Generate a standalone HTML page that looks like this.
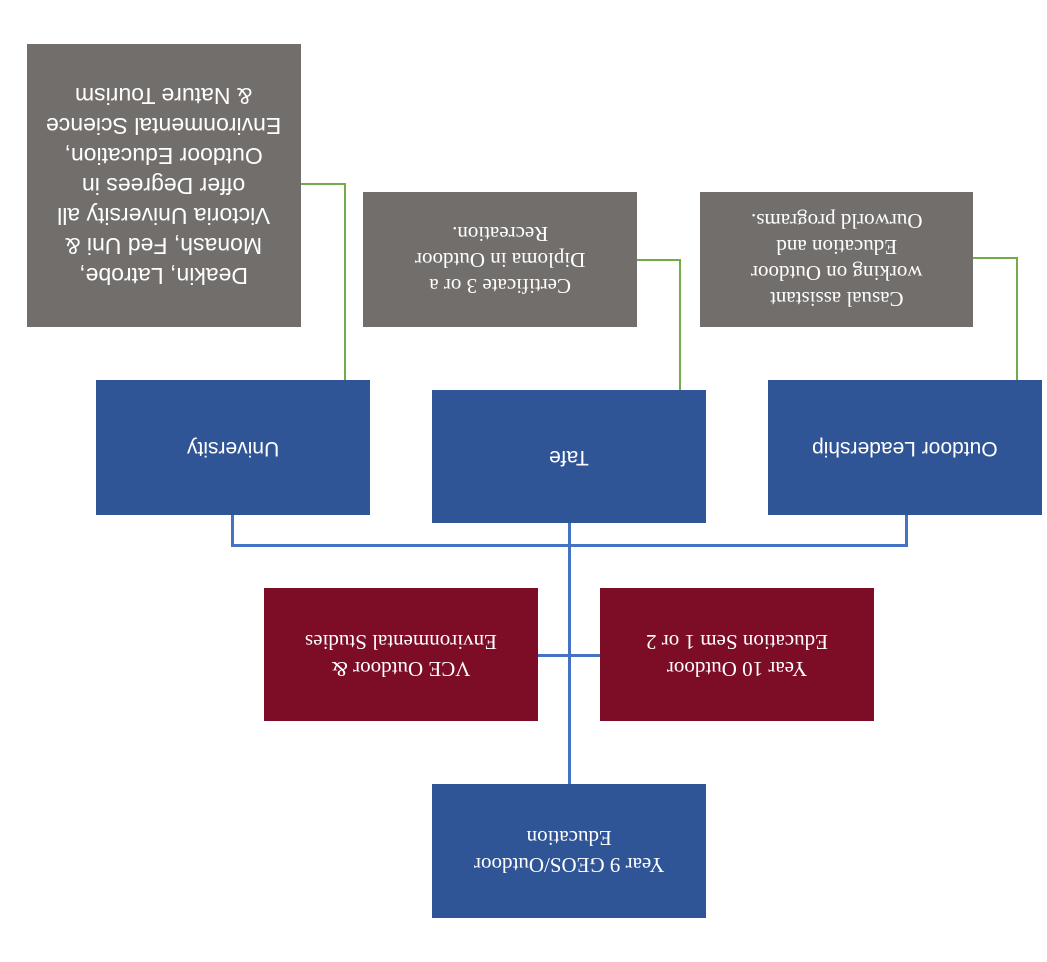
<!DOCTYPE html><html><head><style>
body{margin:0;width:1047px;height:962px;background:#fff;position:relative;overflow:hidden}
.b{position:absolute;display:flex;align-items:center;justify-content:center;text-align:center;color:#fff;box-sizing:border-box}
.b span{display:block;transform:rotate(180deg)}
.g{background:#716e6c}.bl{background:#2f5597}.r{background:#7d0c27}
.s{font-family:"Liberation Sans",sans-serif}.f{font-family:"Liberation Serif",serif}
.l{position:absolute}
</style></head><body>
<div class="l" style="left:231px;top:515px;width:3px;height:31px;background:#4472c4"></div>
<div class="l" style="left:905px;top:515px;width:3px;height:31px;background:#4472c4"></div>
<div class="l" style="left:231px;top:544px;width:677px;height:3px;background:#4472c4"></div>
<div class="l" style="left:568px;top:523px;width:3px;height:262px;background:#4472c4"></div>
<div class="l" style="left:538px;top:654px;width:62px;height:3px;background:#4472c4"></div>
<div class="l" style="left:344px;top:184px;width:2px;height:196px;background:#70ad47"></div>
<div class="l" style="left:301px;top:183px;width:45px;height:2px;background:#70ad47"></div>
<div class="l" style="left:679px;top:260px;width:2px;height:130px;background:#70ad47"></div>
<div class="l" style="left:637px;top:259px;width:44px;height:2px;background:#70ad47"></div>
<div class="l" style="left:1016px;top:258px;width:2px;height:122px;background:#70ad47"></div>
<div class="l" style="left:973px;top:257px;width:45px;height:2px;background:#70ad47"></div>

<div class="b g s" style="left:27px;top:44px;width:274px;height:283px;font-size:23px;line-height:30px"><span>Deakin, Latrobe,<br>Monash, Fed Uni &amp;<br>Victoria University all<br>offer Degrees in<br>Outdoor Education,<br>Environmental Science<br>&amp; Nature Tourism</span></div>
<div class="b g f" style="left:363px;top:192px;width:274px;height:135px;font-size:21px;line-height:26px"><span>Certificate 3 or a<br>Diploma in Outdoor<br>Recreation.</span></div>
<div class="b g f" style="left:700px;top:192px;width:273px;height:135px;font-size:21px;line-height:26px"><span>Casual assistant<br>working on Outdoor<br>Education and<br>Ourworld programs.</span></div>
<div class="b bl s" style="left:96px;top:380px;width:274px;height:135px;font-size:21px"><span>University</span></div>
<div class="b bl s" style="left:432px;top:390px;width:274px;height:133px;font-size:21px"><span>Tafe</span></div>
<div class="b bl s" style="left:768px;top:380px;width:274px;height:135px;font-size:21px"><span>Outdoor Leadership</span></div>
<div class="b r f" style="left:264px;top:588px;width:274px;height:133px;font-size:21px;line-height:27px"><span>VCE Outdoor &amp;<br>Environmental Studies</span></div>
<div class="b r f" style="left:600px;top:588px;width:274px;height:133px;font-size:21px;line-height:27px"><span>Year 10 Outdoor<br>Education Sem 1 or 2</span></div>
<div class="b bl f" style="left:432px;top:784px;width:274px;height:134px;font-size:21px;line-height:27px"><span>Year 9 GEOS/Outdoor<br>Education</span></div>
</body></html>
